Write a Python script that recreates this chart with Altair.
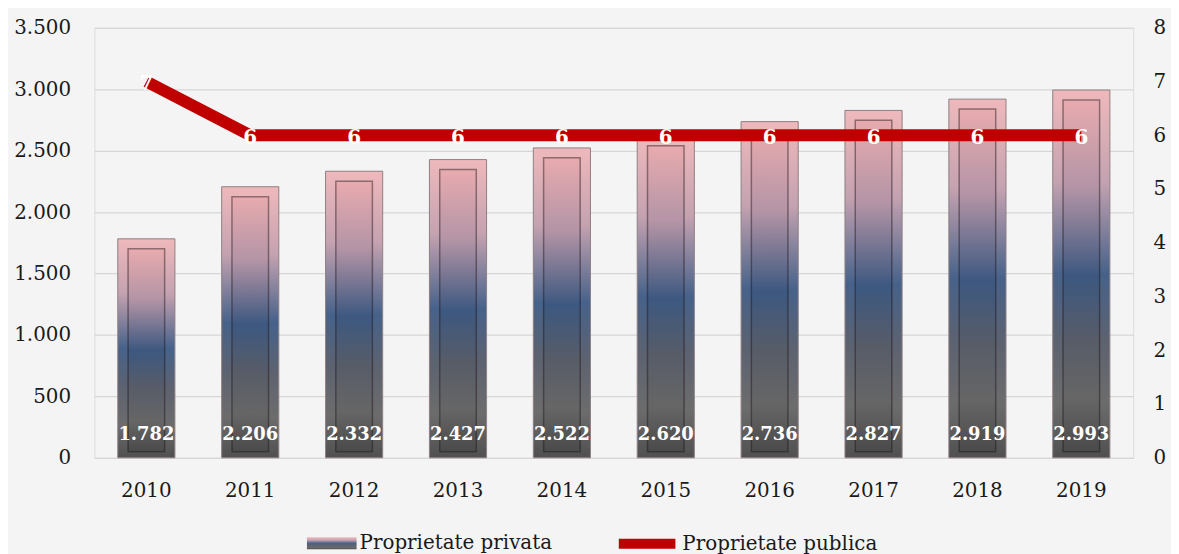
import altair as alt
import pandas as pd

years = ["2010", "2011", "2012", "2013", "2014", "2015", "2016", "2017", "2018", "2019"]
privata = [1782, 2206, 2332, 2427, 2522, 2620, 2736, 2827, 2919, 2993]
publica = [7, 6, 6, 6, 6, 6, 6, 6, 6, 6]
left_ticks = [0, 500, 1000, 1500, 2000, 2500, 3000, 3500]
right_ticks = [0, 1, 2, 3, 4, 5, 6, 7, 8]
series = ["Proprietate privata", "Proprietate publica"]

df = pd.DataFrame({"year": years, "privata": privata, "publica": publica})
df["privata_label"] = [f"{v:,}".replace(",", ".") for v in privata]
df["zero"] = 0
df["s1"] = series[0]
df["s2"] = series[1]

FONT = "DejaVu Serif"

x = alt.X("year:N", scale=alt.Scale(paddingInner=0.45, paddingOuter=0.225),
          axis=alt.Axis(title=None, labelAngle=0, ticks=False, domain=False,
                        labelPadding=23, labelFontSize=20, labelColor="#1a1a1a",
                        labelFont=FONT))

left_scale = alt.Scale(domain=[0, 3500], nice=False)
y_left = alt.Y("privata:Q", scale=left_scale,
               axis=alt.Axis(values=left_ticks, title=None, ticks=False, domain=False,
                             labelPadding=24, labelFontSize=20, labelColor="#1a1a1a",
                             labelFont=FONT, gridColor="#d6d6d6", gridWidth=1.2,
                             labelExpr="replace(format(datum.value, ','), ',', '.')"))

grad = alt.Gradient(gradient="linear", x1=0, y1=0, x2=0, y2=1, stops=[
    alt.GradientStop(color="#efb9bc", offset=0),
    alt.GradientStop(color="#c4a2b0", offset=0.25),
    alt.GradientStop(color="#46628a", offset=0.5),
    alt.GradientStop(color="#5c6270", offset=0.68),
    alt.GradientStop(color="#6c6c6c", offset=0.85),
    alt.GradientStop(color="#505050", offset=1),
])
grad_inner = alt.Gradient(gradient="linear", x1=0, y1=0, x2=0, y2=1, stops=[
    alt.GradientStop(color="#e8abaf", offset=0),
    alt.GradientStop(color="#b394a6", offset=0.25),
    alt.GradientStop(color="#3d5880", offset=0.5),
    alt.GradientStop(color="#575c68", offset=0.68),
    alt.GradientStop(color="#666666", offset=0.85),
    alt.GradientStop(color="#4a4a4a", offset=1),
])

base = alt.Chart(df)

outer = base.mark_bar(fill=grad, stroke="#8f7f82", strokeWidth=1,
                      width=alt.RelativeBandSize(1)).encode(
    x=x, y=y_left,
    opacity=alt.Opacity("s1:O", scale=alt.Scale(domain=[series[0]], range=[1]),
                        legend=alt.Legend(title=None, orient="none", legendX=213, legendY=493,
                                          symbolType="M-1,-0.24H1V0.24H-1Z", symbolSize=2500,
                                          symbolFillColor="#56647f", symbolStrokeColor="#c09aa0",
                                          symbolStrokeWidth=1.5, labelLimit=400,
                                          labelFontSize=20, labelFont=FONT, labelColor="#1a1a1a",
                                          labelOffset=2)),
)

inner = base.mark_bar(fill=grad_inner, stroke="rgba(30,20,25,0.45)", strokeWidth=1.5,
                      width=alt.RelativeBandSize(0.64), yOffset=10, y2Offset=-6).encode(
    x=x, y=alt.Y("privata:Q", scale=left_scale, title=None),
    y2=alt.Y2("zero:Q"),
)

bar_labels = base.mark_text(font=FONT, fontWeight="bold", fontSize=18, color="white",
                            baseline="middle", align="center", dy=-23).encode(
    x=x, y=alt.Y("zero:Q", scale=left_scale, title=None),
    text="privata_label:N",
)

bars = alt.layer(outer, inner, bar_labels)

right_scale = alt.Scale(domain=[0, 8], nice=False)
y_right = alt.Y("publica:Q", scale=right_scale,
                axis=alt.Axis(orient="right", values=right_ticks, title=None, ticks=False,
                              domain=False, grid=False, labelPadding=20, labelFontSize=20,
                              labelColor="#1a1a1a", labelFont=FONT))

line = base.mark_line(strokeWidth=12, strokeJoin="miter").encode(
    x=x, y=y_right,
    color=alt.Color("s2:N", scale=alt.Scale(domain=[series[1]], range=["#c00000"]),
                    legend=alt.Legend(title=None, orient="none", legendX=523, legendY=486,
                                      symbolType="stroke", symbolSize=3249,
                                      symbolStrokeWidth=10, labelLimit=400,
                                      labelFontSize=20, labelFont=FONT, labelColor="#1a1a1a",
                                      labelOffset=2)),
)

line_labels = base.mark_text(font=FONT, fontWeight="bold", fontSize=20, color="white",
                             baseline="middle", align="center", dy=3).encode(
    x=x, y=alt.Y("publica:Q", scale=right_scale, title=None),
    text="publica:N",
)

lines = alt.layer(line, line_labels)

chart = alt.layer(bars, lines).resolve_scale(y="independent").properties(
    width=1046, height=433,
    padding={"left": 87, "top": 18, "right": 38, "bottom": 95},
    autosize=alt.AutoSizeParams(type="none"),
    background="#f4f4f4",
).configure_view(stroke=None).configure(font=FONT)

chart.save("out.html", embed_options={"renderer": "svg", "actions": False})
